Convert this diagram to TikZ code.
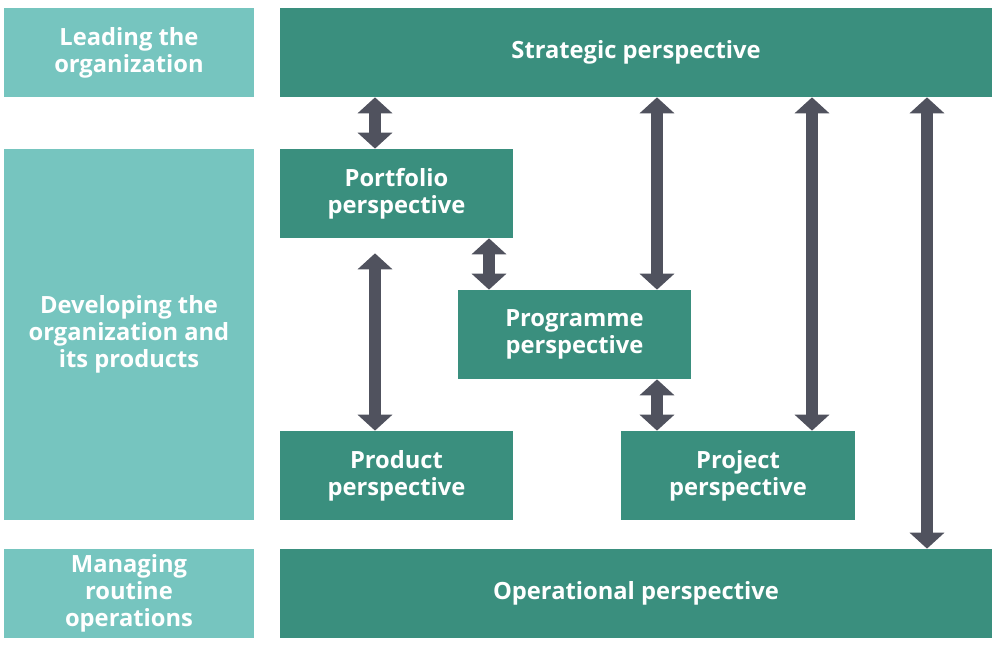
\documentclass[tikz,border=0pt]{standalone}
\usepackage{fontspec}
\setmainfont{Open Sans}
\usetikzlibrary{arrows.meta,positioning}
\definecolor{darkteal}{HTML}{3A8F7E}
\definecolor{lightteal}{HTML}{76C5BF}
\definecolor{arrowgray}{HTML}{50525E}
\begin{document}
\begin{tikzpicture}
[x=0.02cm, y=-0.02cm,
every node/.style={draw=none, inner sep=0pt, align=center, text=white,
  font=\fontsize{13.5}{15.5}\selectfont\bfseries},
main/.style={fill=darkteal},
side/.style={fill=lightteal, minimum width=5cm, minimum height=1.78cm},
dbl/.style={{Triangle[width=.68cm,length=.32cm]}-{Triangle[width=.68cm,length=.32cm]},
  line width=.24cm, draw=arrowgray}]
\useasboundingbox (0,0) rectangle (1000,652);
%%
\node[side] (lead) at (129,52.5) {Leading the\\organization};
\node[side, minimum height=7.42cm] (dev) at (129,334.5) {Developing the\\organization and\\its products};
\node[side] (manage) at (129,593.5) {Managing\\routine\\operations};
%%
\node[main, minimum width=14.24cm, minimum height=1.78cm] (strat) at (636,52.5) {Strategic perspective};
\node[main, minimum width=14.24cm, minimum height=1.78cm] (oper) at (636,593.5) {Operational perspective};
\node[main, minimum width=4.66cm, minimum height=1.78cm] (port) at (396.5,193.5) {Portfolio\\perspective};
\node[main, minimum width=4.66cm, minimum height=1.78cm] (prog) at (574.5,334.5) {Programme\\perspective};
\node[main, minimum width=4.66cm, minimum height=1.78cm] (prod) at (396.5,475.5) {Product\\perspective};
\node[main, minimum width=4.68cm, minimum height=1.78cm] (proj) at (738,475.5) {Project\\perspective};
%%
\coordinate (c1) at (375,0);
\coordinate (c2) at (489,0);
\coordinate (c3) at (657,0);
\coordinate (c4) at (812,0);
\coordinate (c5) at (927,0);
%%
\draw[dbl] (strat.south -| c1) -- (port.north -| c1);
\draw[dbl, shorten <=.3cm] (port.south -| c1) -- (prod.north -| c1);
\draw[dbl] (port.south -| c2) -- (prog.north -| c2);
\draw[dbl] (strat.south -| c3) -- (prog.north -| c3);
\draw[dbl] (prog.south -| c3) -- (proj.north -| c3);
\draw[dbl] (strat.south -| c4) -- (proj.north -| c4);
\draw[dbl] (strat.south -| c5) -- (oper.north -| c5);
\end{tikzpicture}
\end{document}
